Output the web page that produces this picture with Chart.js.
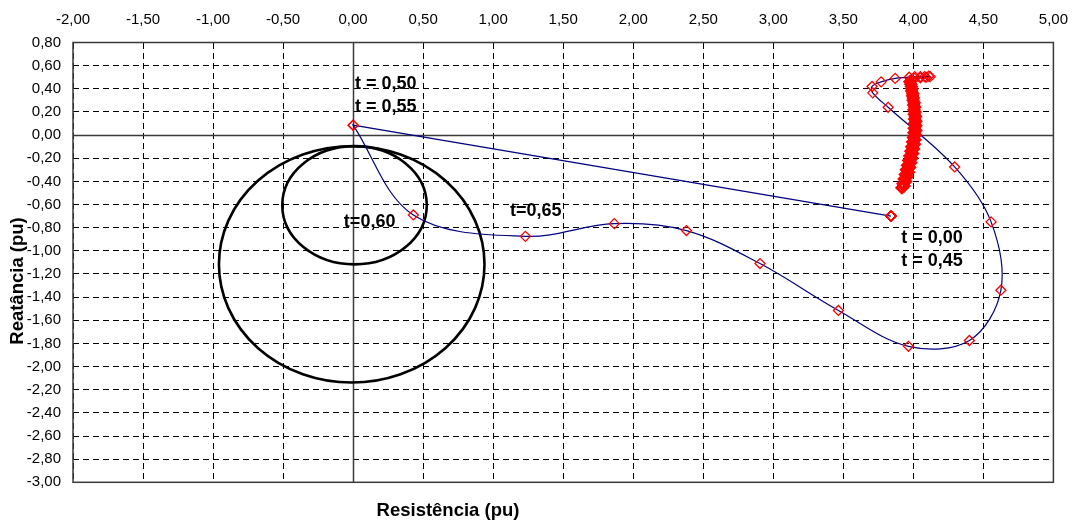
<!DOCTYPE html>
<html>
<head>
<meta charset="utf-8">
<script src="https://cdn.jsdelivr.net/npm/chart.js@4/dist/chart.umd.min.js"></script>
<style>
  html, body { margin: 0; padding: 0; background: #ffffff; }
  canvas { display: block; }
</style>
</head>
<body>
<canvas id="chart" width="1082" height="527"></canvas>
<script>
// Axis tick values
const xTickValues = [-2, -1.5, -1, -0.5, 0, 0.5, 1, 1.5, 2, 2.5, 3, 3.5, 4, 4.5, 5];
const yTickValues = [0.8, 0.6, 0.4, 0.2, 0, -0.2, -0.4, -0.6, -0.8, -1, -1.2, -1.4, -1.6, -1.8,
                     -2, -2.2, -2.4, -2.6, -2.8, -3];

// Apparent impedance trajectory (resistance / reactance, pu), one sample every 0.05 s
const trajR = [
  3.84, 3.84, 3.84, 3.84, 3.84, 3.84, 3.84, 3.84, 3.84, 3.84,
  0.00, 0.00,
  0.43, 1.23, 1.865, 2.38, 2.905, 3.465, 3.965, 4.40, 4.625, 4.555, 4.295,
  3.82, 3.71, 3.705, 3.77, 3.87, 3.97,
  4.01, 4.05, 4.08, 4.11, 4.12, 4.09, 4.05, 4.01, 3.985,
  3.975, 3.982, 3.986, 3.990, 3.988, 3.996, 3.994, 4.000, 3.998, 4.006,
  4.002, 4.010, 4.004, 4.012, 4.006, 4.016, 4.008, 4.018, 4.008, 4.018,
  4.006, 4.018, 4.004, 4.016, 4.000, 4.012, 3.994, 4.008, 3.988, 4.002,
  3.982, 3.996, 3.974, 3.990, 3.966, 3.982, 3.958, 3.974, 3.950, 3.966,
  3.942, 3.956, 3.934, 3.946, 3.926, 3.934, 3.918
];
const trajX = [
  -0.70, -0.70, -0.70, -0.70, -0.70, -0.70, -0.70, -0.70, -0.70, -0.70,
  0.086, 0.086,
  -0.69, -0.875, -0.765, -0.825, -1.11, -1.515, -1.825, -1.775, -1.34, -0.75, -0.275,
  0.24, 0.365, 0.42, 0.46, 0.49, 0.50,
  0.505, 0.505, 0.505, 0.51, 0.505, 0.50, 0.495, 0.49, 0.475,
  0.46, 0.44, 0.42, 0.40, 0.38, 0.36, 0.34, 0.32, 0.30, 0.28,
  0.26, 0.24, 0.22, 0.20, 0.18, 0.16, 0.14, 0.12, 0.10, 0.08,
  0.06, 0.04, 0.02, 0.00, -0.02, -0.04, -0.06, -0.08, -0.10, -0.12,
  -0.14, -0.16, -0.18, -0.20, -0.22, -0.24, -0.26, -0.28, -0.30, -0.32,
  -0.34, -0.36, -0.38, -0.40, -0.42, -0.44, -0.455
];

// Relay characteristic zones: centre and radii (pu)
const zoneCenterR = [0.01, -0.01];
const zoneCenterX = [-0.606, -1.117];
const zoneRadiusR = [0.516, 0.948];
const zoneRadiusX = [0.511, 1.021];

// Time annotations (anchor at the left end, vertical middle of the text)
const noteText = ['t = 0,50', 't = 0,55', 't=0,60', 't=0,65', 't = 0,00', 't = 0,45'];
const noteR = [0.014, 0.014, -0.066, 1.12, 3.913, 3.913];
const noteX = [0.438, 0.239, -0.754, -0.659, -0.892, -1.09];

const fmt = v => (Math.abs(v) < 1e-9 ? '0,00' : Number(v).toFixed(2).replace('.', ','));

const tickFont = { family: '"Liberation Sans", Arial, sans-serif', size: 15 };

// samples after t = 1,40 s settle into a dense cluster; their markers are drawn heavier
const settledFrom = 38;

const decorations = {
  id: 'decorations',
  beforeDatasetsDraw(chart) {
    const { ctx, chartArea: a, scales: { x, y } } = chart;
    ctx.save();
    ctx.setLineDash([]);
    // axes through the origin and the plot frame
    ctx.strokeStyle = '#3a3a3a';
    ctx.lineWidth = 1.5;
    const x0 = Math.round(x.getPixelForValue(0)) + 0.5;
    const y0 = Math.round(y.getPixelForValue(0)) + 0.5;
    ctx.beginPath();
    ctx.moveTo(x0, a.top);
    ctx.lineTo(x0, a.bottom);
    ctx.moveTo(a.left, y0);
    ctx.lineTo(a.right, y0);
    ctx.stroke();
    ctx.strokeRect(a.left, a.top, a.right - a.left, a.bottom - a.top);
    // characteristic circles
    ctx.strokeStyle = '#000000';
    ctx.lineWidth = 2.6;
    for (let i = 0; i < zoneCenterR.length; i++) {
      const cx = x.getPixelForValue(zoneCenterR[i]);
      const cy = y.getPixelForValue(zoneCenterX[i]);
      const rx = Math.abs(x.getPixelForValue(zoneCenterR[i] + zoneRadiusR[i]) - cx);
      const ry = Math.abs(y.getPixelForValue(zoneCenterX[i] + zoneRadiusX[i]) - cy);
      ctx.beginPath();
      ctx.ellipse(cx, cy, rx, ry, 0, 0, Math.PI * 2);
      ctx.stroke();
    }
    ctx.restore();
  },
  afterDatasetsDraw(chart) {
    const { ctx, scales: { x, y } } = chart;
    ctx.save();
    ctx.fillStyle = '#000000';
    ctx.font = 'bold 18px "Liberation Sans", Arial, sans-serif';
    ctx.textAlign = 'left';
    ctx.textBaseline = 'middle';
    for (let i = 0; i < noteText.length; i++) {
      ctx.fillText(noteText[i], x.getPixelForValue(noteR[i]), y.getPixelForValue(noteX[i]));
    }
    ctx.restore();
  },
  afterDraw(chart) {
    const { ctx } = chart;
    ctx.save();
    ctx.fillStyle = '#000000';
    ctx.font = 'bold 18.5px "Liberation Sans", Arial, sans-serif';
    ctx.textAlign = 'center';
    ctx.textBaseline = 'middle';
    ctx.fillText('Resistência (pu)', 448, 511);
    ctx.translate(18, 281);
    ctx.rotate(-Math.PI / 2);
    ctx.fillText('Reatância (pu)', 0, 0);
    ctx.restore();
  }
};

new Chart(document.getElementById('chart'), {
  type: 'scatter',
  data: {
    datasets: [{
      data: trajR.map((r, i) => ({ x: r, y: trajX[i] })),
      showLine: true,
      borderColor: '#000080',
      borderWidth: 1.2,
      tension: 0.35,
      pointStyle: 'rectRot',
      pointRadius: 5,
      pointBorderWidth: ctx => (ctx.dataIndex >= settledFrom ? 2.8 : 1.3),
      pointBorderColor: '#ff0000',
      pointBackgroundColor: 'rgba(0,0,0,0)'
    }]
  },
  options: {
    responsive: false,
    animation: false,
    devicePixelRatio: 1,
    events: [],
    layout: { padding: { left: 0, top: 0, right: 20, bottom: 44.7 } },
    plugins: { legend: { display: false }, tooltip: { enabled: false } },
    scales: {
      x: {
        type: 'linear',
        position: 'top',
        min: -2,
        max: 5,
        afterBuildTicks: s => { s.ticks = xTickValues.map(v => ({ value: v })); },
        afterFit: s => { s.height = 42.5; },
        grid: { color: '#000000', lineWidth: 1, drawTicks: false },
        border: { display: false, dash: [6, 4] },
        ticks: { padding: 14, color: '#000000', font: tickFont, autoSkip: false, maxRotation: 0, callback: fmt }
      },
      y: {
        type: 'linear',
        position: 'left',
        min: -3,
        max: 0.8,
        afterBuildTicks: s => { s.ticks = yTickValues.map(v => ({ value: v })); },
        afterFit: s => { s.width = 73; },
        grid: { color: '#000000', lineWidth: 1, drawTicks: false },
        border: { display: false, dash: [6, 4] },
        ticks: { padding: 12, color: '#000000', font: tickFont, autoSkip: false, callback: fmt }
      }
    }
  },
  plugins: [decorations]
});
</script>
</body>
</html>
